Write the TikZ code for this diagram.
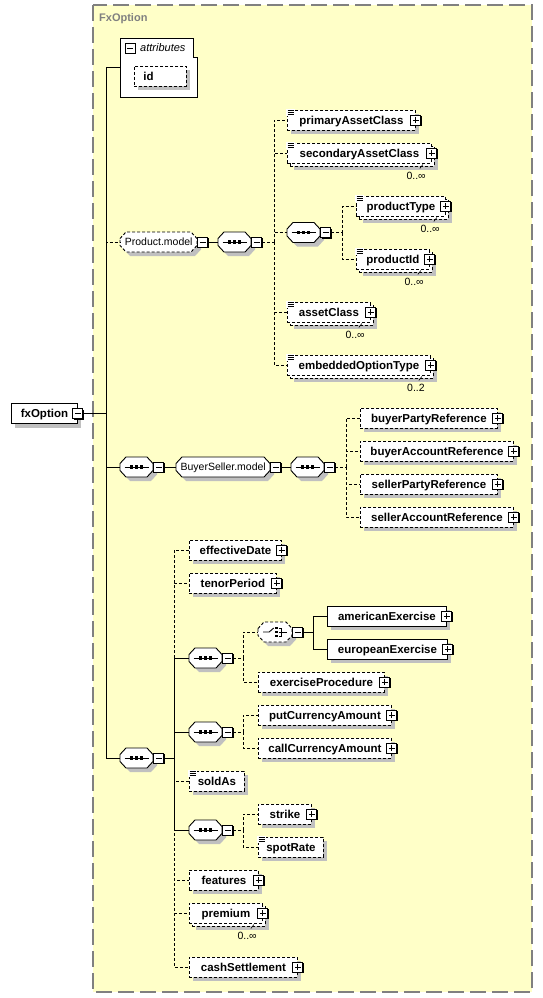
\documentclass[tikz,border=0pt]{standalone}
\usepackage{fontspec}
\setmainfont{Liberation Sans}
\usetikzlibrary{shadows,calc}
\definecolor{bgyellow}{RGB}{255,255,200}
\definecolor{shadowgray}{RGB}{192,192,192}
\definecolor{framegray}{RGB}{128,128,128}
\newcommand\xsIcon[1]{%
  \fill[white] ($(#1.north west)+(-0.6,-1)$) rectangle ($(#1.north west)+(8,6)$);
  \foreach \k in {0.5,2.5,4.5}{\draw[line width=0.8pt] ($(#1.north west)+(0.5,\k)$) -- ++(6.5,0);}%
}
\newcommand\xsPlus[1]{\node[plus] (#1P) at (#1.east) {};}
\newcommand\xsElem[6][]{\node[el,shad,minimum width=#5pt,#1] (#2) at (#3,#4) {#6};}
\newcommand\xsStack[6]{%
  \node[el,shad,opt,minimum width=#4pt] (#1B) at (#2+3,#3+3) {};
  \node[el,opt,minimum width=#4pt] (#1) at (#2,#3) {#5};
  \draw[line width=0.6pt] ($(#1.south east)+(-9,1)$) -- ++(-3,4);
  \node[mult,anchor=north east] (#1M) at ($(#1.south east)+(-6,9)$) {#6};
  \node[plus] (#1P) at (#1.east) {};
}
% octagon outline: [opts]{left}{cy}{width}
\newcommand\xsOct[4][]{%
  \fill[shadowgray,shift={(4,4)}] (#2,#3-3.5) -- (#2+6,#3-10) -- (#2+#4-6,#3-10) -- (#2+#4,#3-3.5)
    -- (#2+#4,#3+3.5) -- (#2+#4-6,#3+10) -- (#2+6,#3+10) -- (#2,#3+3.5) -- cycle;
  \draw[line width=0.9pt,fill=white,#1] (#2,#3-3.5) -- (#2+6,#3-10) -- (#2+#4-6,#3-10) -- (#2+#4,#3-3.5)
    -- (#2+#4,#3+3.5) -- (#2+#4-6,#3+10) -- (#2+6,#3+10) -- (#2,#3+3.5) -- cycle;
}
\newcommand\xsSeq[4][]{%
  \xsOct[#1]{#3}{#4}{33}
  \node[box0,minimum width=33pt] (#2) at (#3,#4) {};
  \draw[line width=0.9pt] ([xshift=-12pt]#2.center) -- ([xshift=12pt]#2.center);
  \foreach \d in {-5,0,5}{\fill ([xshift=\d pt]#2.center) +(-1.7pt,-1.6pt) rectangle +(1.7pt,1.6pt);}
  \node[minus] (#2M) at ($(#2.east)+(5.5,0)$) {};
}
\newcommand\xsGroup[6][]{%
  \xsOct[#1]{#3}{#4}{#5}
  \node[box0,grp,minimum width=#5pt] (#2) at (#3,#4) {#6};
  \node[minus] (#2M) at ($(#2.east)+(5.5,0)$) {};
}
\begin{document}
\begin{tikzpicture}[x=1pt,y=-1pt,
  el/.style={draw, fill=white, rectangle, minimum height=20pt, inner sep=0pt, anchor=west,
    text height=8.6pt, text depth=0pt,
    font=\fontsize{11.5}{13}\selectfont\bfseries, line width=0.9pt},
  box0/.style={rectangle, draw=none, fill=none, minimum height=20pt, inner sep=0pt, anchor=west},
  shad/.style={drop shadow={shadow xshift=4pt, shadow yshift=-4pt, opacity=1, fill=shadowgray}},
  opt/.style={dash pattern=on 3pt off 2pt},
  conn/.style={line width=0.9pt},
  grp/.style={font=\fontsize{10.5}{12}\selectfont, text height=7.8pt, text depth=0pt},
  mult/.style={inner sep=0pt, font=\fontsize{10.5}{12}\selectfont},
  pm/.style={draw, fill=white, rectangle, minimum size=10pt, inner sep=0pt, line width=0.9pt,
    drop shadow={shadow xshift=1pt, shadow yshift=-1pt, opacity=1, fill=black}},
  plus/.style={pm, path picture={\coordinate (ppc) at (path picture bounding box.center);
    \draw[line width=0.9pt] ([xshift=-3pt]ppc) -- ([xshift=3pt]ppc) ([yshift=-3pt]ppc) -- ([yshift=3pt]ppc);}},
  minus/.style={pm, path picture={\coordinate (ppc) at (path picture bounding box.center);
    \draw[line width=0.9pt] ([xshift=-3pt]ppc) -- ([xshift=3pt]ppc);}}
]
\useasboundingbox (0,0) rectangle (543,998);
% frame
\draw[framegray, line width=1.2pt, dash pattern=on 16pt off 6pt, fill=bgyellow] (93,5) rectangle (532,992);
\node[anchor=west, inner sep=0pt, text=framegray, font=\fontsize{11}{12}\selectfont\bfseries] (title) at (99,19) {FxOption};

% attributes
\node[draw=none, minimum width=77pt, minimum height=59pt, anchor=north west, inner sep=0pt] (attr) at (120,38) {};
\draw[line width=0.9pt, fill=white] (attr.north west) -- ([xshift=-4pt]attr.north east) -- ++(0,19) -- ++(4,0) -- (attr.south east) -- (attr.south west) -- cycle;
\node[minus] (attrM) at (130,48) {};
\node[anchor=west, inner sep=0pt, font=\fontsize{11}{12}\selectfont\itshape] (attrT) at (140,48) {attributes};
\node[el,shad,opt,minimum width=52pt,inner xsep=9pt,text width=34pt,align=left] (id) at (134,76) {id};

% root
\xsElem{root}{11}{413.5}{66}{fxOption}
\node[minus] (rootM) at (root.east) {};

% Product.model branch
\xsGroup[opt]{prodm}{120}{242}{77}{Product.model}
\xsSeq{pseq}{218}{242}
\xsElem[opt]{pac}{287}{120}{128}{primaryAssetClass}\xsPlus{pac}\xsIcon{pac}
\xsStack{sac}{287}{153}{144}{secondaryAssetClass}{0..∞}\xsIcon{sac}
\xsSeq{ptseq}{287}{232.5}
\xsStack{ptype}{356}{206}{89}{productType}{0..∞}\xsIcon{ptype}
\xsStack{pid}{356}{259}{73}{productId}{0..∞}\xsIcon{pid}
\xsStack{ac}{287}{312}{83}{assetClass}{0..∞}\xsIcon{ac}
\xsStack{eot}{287}{365}{143}{embeddedOptionType}{0..2}\xsIcon{eot}

% BuyerSeller branch
\xsSeq{bsseq}{120}{467}
\xsGroup{bsm}{176}{467}{94}{BuyerSeller.model}
\xsSeq{bsin}{291}{467}
\xsElem[opt]{bpr}{360}{418}{137}{buyerPartyReference}\xsPlus{bpr}
\xsElem[opt]{bar}{360}{451}{153}{buyerAccountReference}\xsPlus{bar}
\xsElem[opt]{spr}{360}{484}{137}{sellerPartyReference}\xsPlus{spr}
\xsElem[opt]{sar}{360}{517}{153}{sellerAccountReference}\xsPlus{sar}

% main sequence branch
\xsSeq{mseq}{120}{758}
\xsElem[opt]{ed}{189}{550}{92}{effectiveDate}\xsPlus{ed}
\xsElem[opt]{tp}{189}{583}{87}{tenorPeriod}\xsPlus{tp}
\xsSeq{exseq}{189}{658}
% choice
\xsOct[opt]{258}{632}{34}
\node[box0,minimum width=34pt] (chc) at (258,632) {};
\draw[line width=0.9pt] ($(chc.center)+(-12,0)$) -- ($(chc.center)+(-6,0)$) -- ($(chc.center)+(-1.5,-4)$);
\foreach \d in {-4,0,4}{\fill ($(chc.center)+(1.5,\d)$) +(-1.3pt,-1.3pt) rectangle +(1.3pt,1.3pt);}
\draw[line width=0.9pt] ($(chc.center)+(4,-4)$) -- ($(chc.center)+(6.5,-4)$) -- ($(chc.center)+(6.5,4)$) -- ($(chc.center)+(4,4)$)
  ($(chc.center)+(4,0)$) -- ($(chc.center)+(12,0)$);
\node[minus] (chcM) at ($(chc.east)+(5.5,0)$) {};
\xsElem{amer}{327}{616}{119}{americanExercise}\xsPlus{amer}
\xsElem{euro}{327}{649}{120}{europeanExercise}\xsPlus{euro}
\xsElem[opt]{ep}{258}{682}{126}{exerciseProcedure}\xsPlus{ep}
\xsSeq{curseq}{189}{732}
\xsElem[opt]{put}{258}{715}{133}{putCurrencyAmount}\xsPlus{put}
\xsElem[opt]{call}{258}{748}{133}{callCurrencyAmount}\xsPlus{call}
\xsElem[opt]{sold}{189}{781}{55}{soldAs}\xsIcon{sold}
\xsSeq{strseq}{189}{830}
\xsElem[opt]{strike}{258}{814}{53}{strike}\xsPlus{strike}
\xsElem[opt]{spot}{258}{847}{65}{spotRate}\xsIcon{spot}
\xsElem[opt]{feat}{189}{880}{69}{features}\xsPlus{feat}
\xsStack{prem}{189}{913}{73}{premium}{0..∞}
\xsElem[opt]{cash}{189}{967}{108}{cashSettlement}\xsPlus{cash}

% junctions
\coordinate (J0) at (106,413.5);
\coordinate (J1) at (274,242);
\coordinate (J2) at (342,232.5);
\coordinate (J3) at (346,467);
\coordinate (J4) at (174,758);
\coordinate (J5) at (243,658);
\coordinate (J6) at (313,632);
\coordinate (J7) at (243,732);
\coordinate (J8) at (243,830);

% optional connectors
\draw[conn,opt] (J0) |- (prodm.west);
\draw[conn,opt] (pseqM.east) -- (J1);
\foreach \t in {pac,sac,ptseq,ac,eot} \draw[conn,opt] (J1) |- (\t.west);
\draw[conn,opt] (ptseqM.east) -- (J2);
\foreach \t in {ptype,pid} \draw[conn,opt] (J2) |- (\t.west);
\draw[conn,opt] (bsinM.east) -- (J3);
\foreach \t in {bpr,bar,spr,sar} \draw[conn,opt] (J3) |- (\t.west);
\foreach \t in {ed,tp,sold,feat,prem,cash} \draw[conn,opt] (J4) |- (\t.west);
\draw[conn,opt] (exseqM.east) -- (J5);
\foreach \t in {chc,ep} \draw[conn,opt] (J5) |- (\t.west);
\draw[conn,opt] (curseqM.east) -- (J7);
\foreach \t in {put,call} \draw[conn,opt] (J7) |- (\t.west);
\draw[conn,opt] (strseqM.east) -- (J8);
\foreach \t in {strike,spot} \draw[conn,opt] (J8) |- (\t.west);

% required connectors
\draw[conn] (rootM.east) -- (J0);
\foreach \t in {attr,bsseq,mseq} \draw[conn] (J0) |- (\t.west);
\draw[conn] (prodmM.east) -- (pseq.west);
\draw[conn] (bsseqM.east) -- (bsm.west);
\draw[conn] (bsmM.east) -- (bsin.west);
\draw[conn] (mseqM.east) -- (J4);
\foreach \t in {exseq,curseq,strseq} \draw[conn] (J4) |- (\t.west);
\draw[conn] (chcM.east) -- (J6);
\foreach \t in {amer,euro} \draw[conn] (J6) |- (\t.west);
\end{tikzpicture}
\end{document}
